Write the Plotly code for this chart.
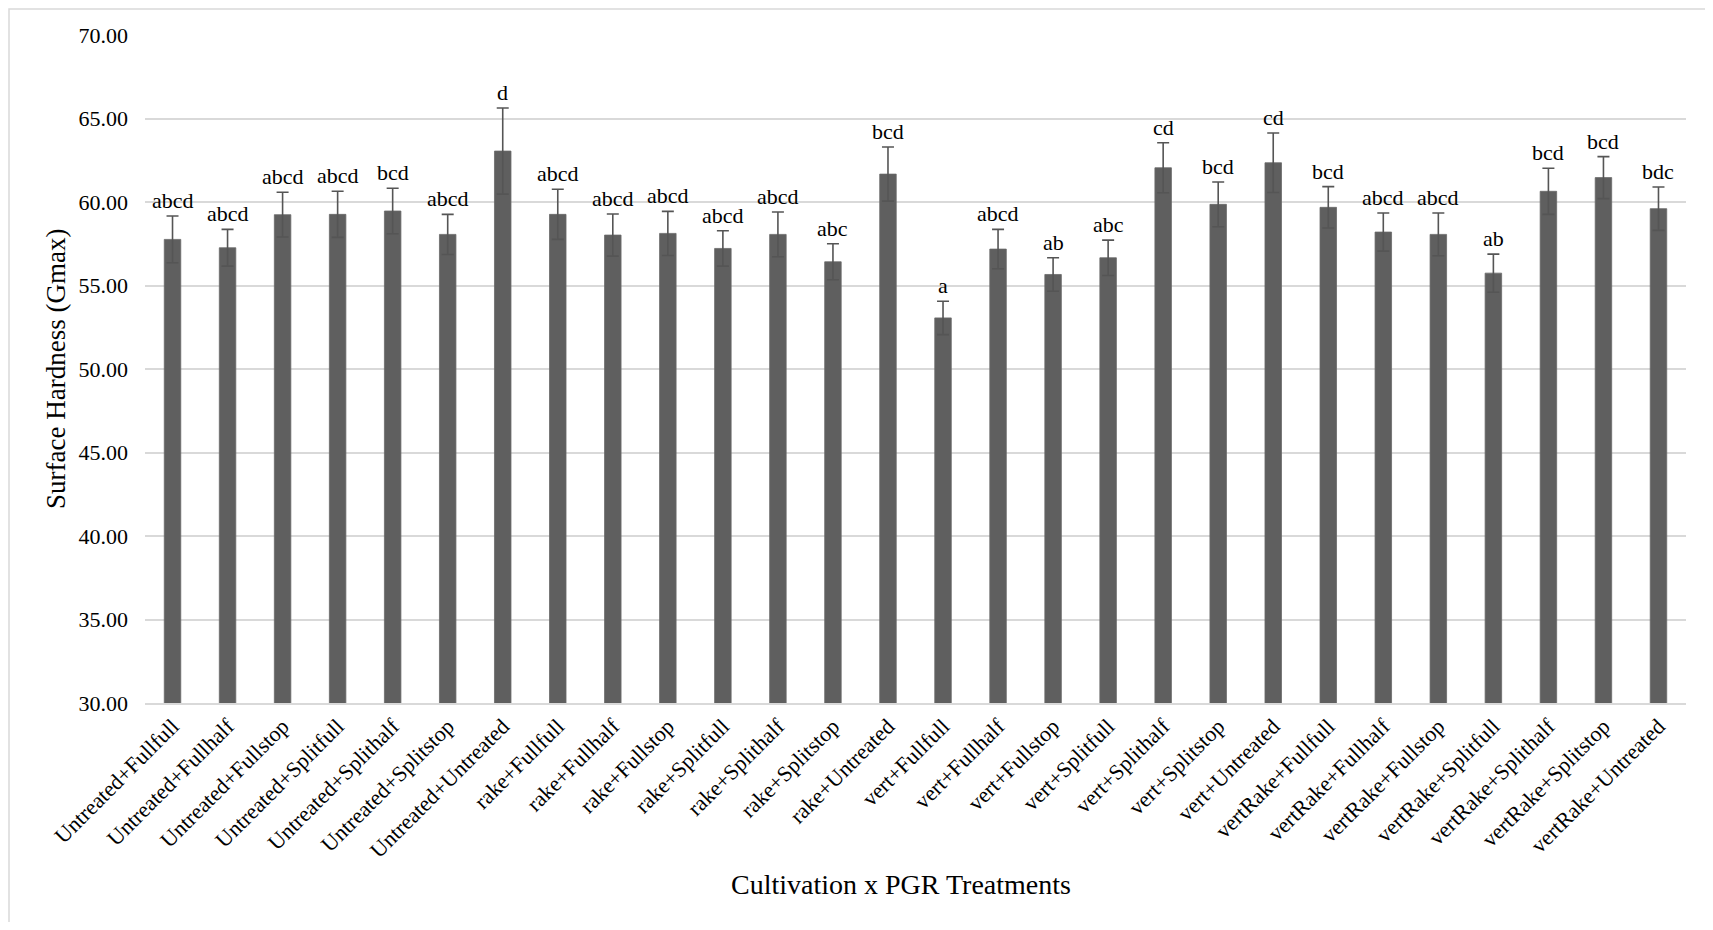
import plotly.graph_objects as go

categories = [
    "Untreated+Fullfull", "Untreated+Fullhalf", "Untreated+Fullstop", "Untreated+Splitfull",
    "Untreated+Splithalf", "Untreated+Splitstop", "Untreated+Untreated",
    "rake+Fullfull", "rake+Fullhalf", "rake+Fullstop", "rake+Splitfull",
    "rake+Splithalf", "rake+Splitstop", "rake+Untreated",
    "vert+Fullfull", "vert+Fullhalf", "vert+Fullstop", "vert+Splitfull",
    "vert+Splithalf", "vert+Splitstop", "vert+Untreated",
    "vertRake+Fullfull", "vertRake+Fullhalf", "vertRake+Fullstop", "vertRake+Splitfull",
    "vertRake+Splithalf", "vertRake+Splitstop", "vertRake+Untreated",
]
gmax = [
    57.76, 57.26, 59.24, 59.26, 59.46, 58.06, 63.05,
    59.26, 58.02, 58.12, 57.22, 58.06, 56.42, 61.67,
    53.06, 57.18, 55.66, 56.66, 62.05, 59.86, 62.35,
    59.68, 58.20, 58.06, 55.74, 60.64, 61.46, 59.60,
]
std_err = [
    1.40, 1.10, 1.34, 1.38, 1.36, 1.20, 2.58,
    1.50, 1.26, 1.32, 1.06, 1.34, 1.08, 1.62,
    1.00, 1.18, 1.00, 1.06, 1.50, 1.34, 1.78,
    1.24, 1.14, 1.28, 1.14, 1.38, 1.26, 1.30,
]
letters = [
    "abcd", "abcd", "abcd", "abcd", "bcd", "abcd", "d",
    "abcd", "abcd", "abcd", "abcd", "abcd", "abc", "bcd",
    "a", "abcd", "ab", "abc", "cd", "bcd", "cd",
    "bcd", "abcd", "abcd", "ab", "bcd", "bcd", "bdc",
]

FONT = "Liberation Serif, Times New Roman, serif"
OFF = 8  # default page body margin
W, H = 1713 - 2 * OFF, 930 - 2 * OFF
L, T = 145 - OFF, 35 - OFF
R = W - (1686 - OFF)
B = H - (703 - OFF)

pw = W - L - R
ph = H - T - B


def px_x(x_abs):
    return (x_abs - OFF - L) / pw


def px_y(y_abs):
    return (H - B - (y_abs - OFF)) / ph


fig = go.Figure()
fig.add_trace(go.Bar(
    x=categories, y=gmax,
    marker=dict(color="#5f5f5f", line=dict(color="#6a6a6a", width=0.8)),
    error_y=dict(type="data", array=std_err, visible=True,
                 color="#555555", thickness=1.6, width=6),
    width=0.3,
    showlegend=False,
))

for c, v, e, t in zip(categories, gmax, std_err, letters):
    fig.add_annotation(x=c, y=v + e, text=t, showarrow=False,
                       yanchor="bottom", yshift=1,
                       font=dict(family=FONT, size=22, color="#000000"))

# axis titles
fig.add_annotation(xref="paper", yref="paper", x=px_x(901), y=px_y(884),
                   text="Cultivation x PGR Treatments", showarrow=False,
                   xanchor="center", yanchor="middle",
                   font=dict(family=FONT, size=28, color="#000000"))
fig.add_annotation(xref="paper", yref="paper", x=px_x(56), y=0.5,
                   text="Surface Hardness (Gmax)", showarrow=False, textangle=-90,
                   xanchor="center", yanchor="middle",
                   font=dict(family=FONT, size=27, color="#000000"))

# chart border (top and left visible)
fig.add_shape(type="rect", xref="paper", yref="paper",
              x0=px_x(OFF + 1), x1=px_x(1740),
              y0=px_y(960), y1=px_y(OFF + 1),
              line=dict(color="#d9d9d9", width=1.5), fillcolor="rgba(0,0,0,0)", layer="below")

fig.update_layout(
    width=W, height=H,
    margin=dict(l=L, r=R, t=T, b=B, autoexpand=False),
    paper_bgcolor="white", plot_bgcolor="white",
    font=dict(family=FONT, color="#000000"),
    bargap=0.7,
)
fig.update_xaxes(
    tickangle=-45, tickfont=dict(family=FONT, size=22, color="#000000"),
    showline=True, linecolor="#d9d9d9", linewidth=1.5, ticks="",
    showgrid=False, automargin=False, range=[-0.5, len(categories) - 0.5],
)
fig.update_yaxes(
    range=[30, 70], dtick=5, tick0=30, tickformat=".2f",
    tickfont=dict(family=FONT, size=22, color="#000000"),
    showgrid=True, gridcolor="#d9d9d9", gridwidth=1.5,
    zeroline=False, showline=False, ticks="", ticklabelstandoff=16,
    automargin=False,
)

fig.write_html("out.html")
